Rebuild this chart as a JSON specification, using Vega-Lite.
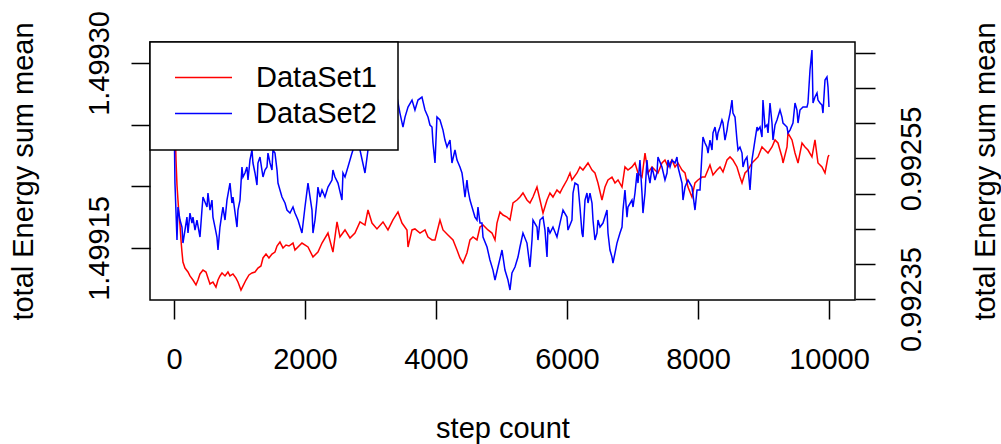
{
"$schema":"https://vega.github.io/schema/vega-lite/v6.json",
"width":705,"height":258,
"autosize":"none",
"padding":{"left":150,"top":42,"right":146,"bottom":144},
"background":"white",
"datasets":{
"red":[
{"step":1,"energy":1.4993089,"series":"DataSet1"},{"step":15,"energy":1.4992538,"series":"DataSet1"},{"step":31,"energy":1.4992213,"series":"DataSet1"},{"step":46,"energy":1.4992011,"series":"DataSet1"},{"step":61,"energy":1.4991889,"series":"DataSet1"},{"step":76,"energy":1.4991767,"series":"DataSet1"},{"step":92,"energy":1.4991686,"series":"DataSet1"},{"step":107,"energy":1.4991565,"series":"DataSet1"},{"step":122,"energy":1.4991467,"series":"DataSet1"},{"step":137,"energy":1.4991386,"series":"DataSet1"},{"step":168,"energy":1.4991337,"series":"DataSet1"},{"step":214,"energy":1.4991305,"series":"DataSet1"},{"step":244,"energy":1.4991273,"series":"DataSet1"},{"step":290,"energy":1.499124,"series":"DataSet1"},{"step":336,"energy":1.49912,"series":"DataSet1"},{"step":366,"energy":1.499124,"series":"DataSet1"},{"step":397,"energy":1.4991289,"series":"DataSet1"},{"step":443,"energy":1.4991321,"series":"DataSet1"},{"step":489,"energy":1.4991305,"series":"DataSet1"},{"step":519,"energy":1.4991256,"series":"DataSet1"},{"step":550,"energy":1.4991208,"series":"DataSet1"},{"step":595,"energy":1.4991224,"series":"DataSet1"},{"step":641,"energy":1.4991183,"series":"DataSet1"},{"step":672,"energy":1.499124,"series":"DataSet1"},{"step":702,"energy":1.4991273,"series":"DataSet1"},{"step":733,"energy":1.4991297,"series":"DataSet1"},{"step":779,"energy":1.4991273,"series":"DataSet1"},{"step":824,"energy":1.4991305,"series":"DataSet1"},{"step":855,"energy":1.4991273,"series":"DataSet1"},{"step":901,"energy":1.4991289,"series":"DataSet1"},{"step":947,"energy":1.4991256,"series":"DataSet1"},{"step":977,"energy":1.4991224,"series":"DataSet1"},{"step":1023,"energy":1.4991159,"series":"DataSet1"},{"step":1053,"energy":1.4991191,"series":"DataSet1"},{"step":1099,"energy":1.499124,"series":"DataSet1"},{"step":1145,"energy":1.4991281,"series":"DataSet1"},{"step":1191,"energy":1.4991297,"series":"DataSet1"},{"step":1237,"energy":1.4991305,"series":"DataSet1"},{"step":1282,"energy":1.4991337,"series":"DataSet1"},{"step":1328,"energy":1.4991354,"series":"DataSet1"},{"step":1359,"energy":1.4991419,"series":"DataSet1"},{"step":1405,"energy":1.4991451,"series":"DataSet1"},{"step":1450,"energy":1.4991419,"series":"DataSet1"},{"step":1496,"energy":1.4991451,"series":"DataSet1"},{"step":1542,"energy":1.4991467,"series":"DataSet1"},{"step":1573,"energy":1.4991516,"series":"DataSet1"},{"step":1618,"energy":1.4991548,"series":"DataSet1"},{"step":1664,"energy":1.49915,"series":"DataSet1"},{"step":1710,"energy":1.4991524,"series":"DataSet1"},{"step":1756,"energy":1.4991516,"series":"DataSet1"},{"step":1817,"energy":1.499154,"series":"DataSet1"},{"step":1847,"energy":1.4991483,"series":"DataSet1"},{"step":1954,"energy":1.499154,"series":"DataSet1"},{"step":2046,"energy":1.4991508,"series":"DataSet1"},{"step":2122,"energy":1.4991427,"series":"DataSet1"},{"step":2198,"energy":1.4991467,"series":"DataSet1"},{"step":2260,"energy":1.499154,"series":"DataSet1"},{"step":2351,"energy":1.4991621,"series":"DataSet1"},{"step":2427,"energy":1.4991467,"series":"DataSet1"},{"step":2489,"energy":1.4991711,"series":"DataSet1"},{"step":2534,"energy":1.4991589,"series":"DataSet1"},{"step":2611,"energy":1.4991646,"series":"DataSet1"},{"step":2687,"energy":1.4991581,"series":"DataSet1"},{"step":2763,"energy":1.4991621,"series":"DataSet1"},{"step":2840,"energy":1.4991711,"series":"DataSet1"},{"step":2916,"energy":1.4991686,"series":"DataSet1"},{"step":2962,"energy":1.4991808,"series":"DataSet1"},{"step":3023,"energy":1.4991702,"series":"DataSet1"},{"step":3099,"energy":1.4991654,"series":"DataSet1"},{"step":3191,"energy":1.4991711,"series":"DataSet1"},{"step":3267,"energy":1.4991646,"series":"DataSet1"},{"step":3343,"energy":1.4991727,"series":"DataSet1"},{"step":3420,"energy":1.4991792,"series":"DataSet1"},{"step":3481,"energy":1.4991702,"series":"DataSet1"},{"step":3557,"energy":1.4991646,"series":"DataSet1"},{"step":3573,"energy":1.4991508,"series":"DataSet1"},{"step":3634,"energy":1.4991646,"series":"DataSet1"},{"step":3679,"energy":1.4991654,"series":"DataSet1"},{"step":3756,"energy":1.4991621,"series":"DataSet1"},{"step":3832,"energy":1.4991646,"series":"DataSet1"},{"step":3878,"energy":1.4991589,"series":"DataSet1"},{"step":3939,"energy":1.4991565,"series":"DataSet1"},{"step":3985,"energy":1.4991565,"series":"DataSet1"},{"step":4061,"energy":1.4991727,"series":"DataSet1"},{"step":4107,"energy":1.4991646,"series":"DataSet1"},{"step":4183,"energy":1.4991605,"series":"DataSet1"},{"step":4260,"energy":1.4991565,"series":"DataSet1"},{"step":4321,"energy":1.4991483,"series":"DataSet1"},{"step":4366,"energy":1.4991419,"series":"DataSet1"},{"step":4412,"energy":1.4991378,"series":"DataSet1"},{"step":4473,"energy":1.4991459,"series":"DataSet1"},{"step":4519,"energy":1.4991565,"series":"DataSet1"},{"step":4565,"energy":1.4991589,"series":"DataSet1"},{"step":4626,"energy":1.4991565,"series":"DataSet1"},{"step":4672,"energy":1.499167,"series":"DataSet1"},{"step":4718,"energy":1.4991686,"series":"DataSet1"},{"step":4794,"energy":1.4991646,"series":"DataSet1"},{"step":4855,"energy":1.4991621,"series":"DataSet1"},{"step":4901,"energy":1.4991565,"series":"DataSet1"},{"step":4931,"energy":1.4991702,"series":"DataSet1"},{"step":4977,"energy":1.4991792,"series":"DataSet1"},{"step":5023,"energy":1.4991767,"series":"DataSet1"},{"step":5084,"energy":1.4991751,"series":"DataSet1"},{"step":5130,"energy":1.4991727,"series":"DataSet1"},{"step":5176,"energy":1.4991865,"series":"DataSet1"},{"step":5237,"energy":1.4991889,"series":"DataSet1"},{"step":5282,"energy":1.4991913,"series":"DataSet1"},{"step":5328,"energy":1.4991946,"series":"DataSet1"},{"step":5389,"energy":1.4991889,"series":"DataSet1"},{"step":5435,"energy":1.4991865,"series":"DataSet1"},{"step":5481,"energy":1.4991913,"series":"DataSet1"},{"step":5542,"energy":1.4991994,"series":"DataSet1"},{"step":5588,"energy":1.4991889,"series":"DataSet1"},{"step":5634,"energy":1.4991783,"series":"DataSet1"},{"step":5695,"energy":1.4991889,"series":"DataSet1"},{"step":5740,"energy":1.4991946,"series":"DataSet1"},{"step":5786,"energy":1.4991913,"series":"DataSet1"},{"step":5847,"energy":1.499197,"series":"DataSet1"},{"step":5893,"energy":1.4991946,"series":"DataSet1"},{"step":5939,"energy":1.4991994,"series":"DataSet1"},{"step":6000,"energy":1.4992051,"series":"DataSet1"},{"step":6046,"energy":1.4992108,"series":"DataSet1"},{"step":6076,"energy":1.4992051,"series":"DataSet1"},{"step":6153,"energy":1.4992108,"series":"DataSet1"},{"step":6198,"energy":1.4992157,"series":"DataSet1"},{"step":6244,"energy":1.4992132,"series":"DataSet1"},{"step":6321,"energy":1.4992189,"series":"DataSet1"},{"step":6382,"energy":1.4992132,"series":"DataSet1"},{"step":6427,"energy":1.4992108,"series":"DataSet1"},{"step":6473,"energy":1.4992027,"series":"DataSet1"},{"step":6534,"energy":1.4991889,"series":"DataSet1"},{"step":6580,"energy":1.4991994,"series":"DataSet1"},{"step":6626,"energy":1.4992051,"series":"DataSet1"},{"step":6687,"energy":1.4992075,"series":"DataSet1"},{"step":6733,"energy":1.4992027,"series":"DataSet1"},{"step":6779,"energy":1.4992051,"series":"DataSet1"},{"step":6840,"energy":1.4991994,"series":"DataSet1"},{"step":6885,"energy":1.4992157,"series":"DataSet1"},{"step":6931,"energy":1.4992132,"series":"DataSet1"},{"step":6992,"energy":1.4992157,"series":"DataSet1"},{"step":7038,"energy":1.4992189,"series":"DataSet1"},{"step":7084,"energy":1.4992108,"series":"DataSet1"},{"step":7145,"energy":1.4992075,"series":"DataSet1"},{"step":7191,"energy":1.499227,"series":"DataSet1"},{"step":7237,"energy":1.4992108,"series":"DataSet1"},{"step":7298,"energy":1.4992157,"series":"DataSet1"},{"step":7343,"energy":1.4992132,"series":"DataSet1"},{"step":7389,"energy":1.4992108,"series":"DataSet1"},{"step":7450,"energy":1.4992189,"series":"DataSet1"},{"step":7496,"energy":1.4992213,"series":"DataSet1"},{"step":7542,"energy":1.4992157,"series":"DataSet1"},{"step":7603,"energy":1.4992213,"series":"DataSet1"},{"step":7649,"energy":1.4992157,"series":"DataSet1"},{"step":7695,"energy":1.4992189,"series":"DataSet1"},{"step":7756,"energy":1.4992132,"series":"DataSet1"},{"step":7802,"energy":1.4992108,"series":"DataSet1"},{"step":7847,"energy":1.4991994,"series":"DataSet1"},{"step":7908,"energy":1.4991913,"series":"DataSet1"},{"step":7954,"energy":1.4992027,"series":"DataSet1"},{"step":8000,"energy":1.4992051,"series":"DataSet1"},{"step":8061,"energy":1.4992075,"series":"DataSet1"},{"step":8107,"energy":1.4992075,"series":"DataSet1"},{"step":8183,"energy":1.4992173,"series":"DataSet1"},{"step":8229,"energy":1.4992092,"series":"DataSet1"},{"step":8290,"energy":1.4992132,"series":"DataSet1"},{"step":8336,"energy":1.4992157,"series":"DataSet1"},{"step":8382,"energy":1.4992116,"series":"DataSet1"},{"step":8443,"energy":1.4992213,"series":"DataSet1"},{"step":8489,"energy":1.4992238,"series":"DataSet1"},{"step":8534,"energy":1.4992213,"series":"DataSet1"},{"step":8595,"energy":1.4992157,"series":"DataSet1"},{"step":8641,"energy":1.4992075,"series":"DataSet1"},{"step":8672,"energy":1.4992027,"series":"DataSet1"},{"step":8718,"energy":1.4992108,"series":"DataSet1"},{"step":8763,"energy":1.4992132,"series":"DataSet1"},{"step":8824,"energy":1.4992189,"series":"DataSet1"},{"step":8870,"energy":1.4992213,"series":"DataSet1"},{"step":8916,"energy":1.4992238,"series":"DataSet1"},{"step":8977,"energy":1.4992319,"series":"DataSet1"},{"step":9023,"energy":1.4992294,"series":"DataSet1"},{"step":9069,"energy":1.499227,"series":"DataSet1"},{"step":9130,"energy":1.4992319,"series":"DataSet1"},{"step":9176,"energy":1.4992376,"series":"DataSet1"},{"step":9221,"energy":1.4992351,"series":"DataSet1"},{"step":9282,"energy":1.4992238,"series":"DataSet1"},{"step":9298,"energy":1.4992189,"series":"DataSet1"},{"step":9359,"energy":1.4992319,"series":"DataSet1"},{"step":9374,"energy":1.4992432,"series":"DataSet1"},{"step":9435,"energy":1.4992376,"series":"DataSet1"},{"step":9481,"energy":1.499227,"series":"DataSet1"},{"step":9527,"energy":1.4992189,"series":"DataSet1"},{"step":9588,"energy":1.4992351,"series":"DataSet1"},{"step":9634,"energy":1.4992319,"series":"DataSet1"},{"step":9679,"energy":1.4992294,"series":"DataSet1"},{"step":9740,"energy":1.4992238,"series":"DataSet1"},{"step":9786,"energy":1.4992376,"series":"DataSet1"},{"step":9832,"energy":1.4992189,"series":"DataSet1"},{"step":9893,"energy":1.4992157,"series":"DataSet1"},{"step":9939,"energy":1.4992108,"series":"DataSet1"},{"step":9985,"energy":1.4992238,"series":"DataSet1"},{"step":10000,"energy":1.4992254,"series":"DataSet1"}
],
"blue":[
{"step":1,"energy":0.9926189,"series":"DataSet2"},{"step":15,"energy":0.992515,"series":"DataSet2"},{"step":46,"energy":0.9924339,"series":"DataSet2"},{"step":61,"energy":0.9924809,"series":"DataSet2"},{"step":92,"energy":0.9924624,"series":"DataSet2"},{"step":122,"energy":0.9924524,"series":"DataSet2"},{"step":137,"energy":0.9924296,"series":"DataSet2"},{"step":168,"energy":0.9924481,"series":"DataSet2"},{"step":198,"energy":0.9924666,"series":"DataSet2"},{"step":214,"energy":0.9924439,"series":"DataSet2"},{"step":244,"energy":0.9924723,"series":"DataSet2"},{"step":275,"energy":0.9924581,"series":"DataSet2"},{"step":290,"energy":0.9924666,"series":"DataSet2"},{"step":321,"energy":0.9924481,"series":"DataSet2"},{"step":351,"energy":0.9924624,"series":"DataSet2"},{"step":397,"energy":0.9924382,"series":"DataSet2"},{"step":427,"energy":0.9924766,"series":"DataSet2"},{"step":443,"energy":0.9924951,"series":"DataSet2"},{"step":504,"energy":0.9924809,"series":"DataSet2"},{"step":519,"energy":0.9925008,"series":"DataSet2"},{"step":550,"energy":0.9924766,"series":"DataSet2"},{"step":580,"energy":0.9924908,"series":"DataSet2"},{"step":595,"energy":0.9924666,"series":"DataSet2"},{"step":626,"energy":0.9924524,"series":"DataSet2"},{"step":656,"energy":0.9924382,"series":"DataSet2"},{"step":672,"energy":0.9924197,"series":"DataSet2"},{"step":702,"energy":0.9924524,"series":"DataSet2"},{"step":733,"energy":0.9924723,"series":"DataSet2"},{"step":748,"energy":0.9924809,"series":"DataSet2"},{"step":779,"energy":0.9924624,"series":"DataSet2"},{"step":809,"energy":0.9924908,"series":"DataSet2"},{"step":855,"energy":0.992515,"series":"DataSet2"},{"step":885,"energy":0.9924866,"series":"DataSet2"},{"step":901,"energy":0.9924951,"series":"DataSet2"},{"step":962,"energy":0.9924524,"series":"DataSet2"},{"step":977,"energy":0.9924766,"series":"DataSet2"},{"step":1008,"energy":0.9924908,"series":"DataSet2"},{"step":1038,"energy":0.9925378,"series":"DataSet2"},{"step":1053,"energy":0.9925236,"series":"DataSet2"},{"step":1084,"energy":0.9925293,"series":"DataSet2"},{"step":1114,"energy":0.9925378,"series":"DataSet2"},{"step":1130,"energy":0.9925193,"series":"DataSet2"},{"step":1160,"energy":0.9925477,"series":"DataSet2"},{"step":1191,"energy":0.992562,"series":"DataSet2"},{"step":1206,"energy":0.9925435,"series":"DataSet2"},{"step":1237,"energy":0.9925293,"series":"DataSet2"},{"step":1267,"energy":0.9925122,"series":"DataSet2"},{"step":1282,"energy":0.9925435,"series":"DataSet2"},{"step":1313,"energy":0.992552,"series":"DataSet2"},{"step":1343,"energy":0.9925335,"series":"DataSet2"},{"step":1359,"energy":0.9925236,"series":"DataSet2"},{"step":1389,"energy":0.9925335,"series":"DataSet2"},{"step":1420,"energy":0.9925378,"series":"DataSet2"},{"step":1435,"energy":0.9925577,"series":"DataSet2"},{"step":1466,"energy":0.9925435,"series":"DataSet2"},{"step":1496,"energy":0.9925335,"series":"DataSet2"},{"step":1511,"energy":0.992562,"series":"DataSet2"},{"step":1542,"energy":0.9925577,"series":"DataSet2"},{"step":1573,"energy":0.9925335,"series":"DataSet2"},{"step":1588,"energy":0.992515,"series":"DataSet2"},{"step":1618,"energy":0.9925051,"series":"DataSet2"},{"step":1649,"energy":0.9924951,"series":"DataSet2"},{"step":1695,"energy":0.9924866,"series":"DataSet2"},{"step":1725,"energy":0.9924766,"series":"DataSet2"},{"step":1771,"energy":0.9924723,"series":"DataSet2"},{"step":1817,"energy":0.9924809,"series":"DataSet2"},{"step":1847,"energy":0.9924723,"series":"DataSet2"},{"step":1893,"energy":0.9924624,"series":"DataSet2"},{"step":1954,"energy":0.9924439,"series":"DataSet2"},{"step":2000,"energy":0.9924809,"series":"DataSet2"},{"step":2046,"energy":0.992515,"series":"DataSet2"},{"step":2107,"energy":0.9924766,"series":"DataSet2"},{"step":2122,"energy":0.9924439,"series":"DataSet2"},{"step":2153,"energy":0.9924624,"series":"DataSet2"},{"step":2183,"energy":0.9924908,"series":"DataSet2"},{"step":2198,"energy":0.9925093,"series":"DataSet2"},{"step":2229,"energy":0.9924951,"series":"DataSet2"},{"step":2260,"energy":0.9925051,"series":"DataSet2"},{"step":2305,"energy":0.9924951,"series":"DataSet2"},{"step":2351,"energy":0.9925093,"series":"DataSet2"},{"step":2412,"energy":0.9925193,"series":"DataSet2"},{"step":2427,"energy":0.9925335,"series":"DataSet2"},{"step":2458,"energy":0.9925236,"series":"DataSet2"},{"step":2504,"energy":0.992515,"series":"DataSet2"},{"step":2565,"energy":0.9924908,"series":"DataSet2"},{"step":2580,"energy":0.9925293,"series":"DataSet2"},{"step":2611,"energy":0.9925236,"series":"DataSet2"},{"step":2656,"energy":0.9925378,"series":"DataSet2"},{"step":2718,"energy":0.9925577,"series":"DataSet2"},{"step":2733,"energy":0.992562,"series":"DataSet2"},{"step":2763,"energy":0.9925762,"series":"DataSet2"},{"step":2809,"energy":0.9925691,"series":"DataSet2"},{"step":2840,"energy":0.992562,"series":"DataSet2"},{"step":2916,"energy":0.9925293,"series":"DataSet2"},{"step":2962,"energy":0.992562,"series":"DataSet2"},{"step":3023,"energy":0.9925762,"series":"DataSet2"},{"step":3115,"energy":0.9925976,"series":"DataSet2"},{"step":3191,"energy":0.9926118,"series":"DataSet2"},{"step":3267,"energy":0.992626,"series":"DataSet2"},{"step":3343,"energy":0.9926331,"series":"DataSet2"},{"step":3405,"energy":0.9926374,"series":"DataSet2"},{"step":3450,"energy":0.9926146,"series":"DataSet2"},{"step":3496,"energy":0.9925947,"series":"DataSet2"},{"step":3527,"energy":0.9926089,"series":"DataSet2"},{"step":3573,"energy":0.9926232,"series":"DataSet2"},{"step":3634,"energy":0.9926331,"series":"DataSet2"},{"step":3679,"energy":0.9926189,"series":"DataSet2"},{"step":3725,"energy":0.9926331,"series":"DataSet2"},{"step":3786,"energy":0.9926374,"series":"DataSet2"},{"step":3832,"energy":0.9926189,"series":"DataSet2"},{"step":3878,"energy":0.9926089,"series":"DataSet2"},{"step":3908,"energy":0.9925976,"series":"DataSet2"},{"step":3939,"energy":0.9925947,"series":"DataSet2"},{"step":3954,"energy":0.9925719,"series":"DataSet2"},{"step":3985,"energy":0.9925435,"series":"DataSet2"},{"step":4015,"energy":0.9926089,"series":"DataSet2"},{"step":4061,"energy":0.9926047,"series":"DataSet2"},{"step":4107,"energy":0.9925904,"series":"DataSet2"},{"step":4137,"energy":0.9925762,"series":"DataSet2"},{"step":4168,"energy":0.9925662,"series":"DataSet2"},{"step":4214,"energy":0.9925762,"series":"DataSet2"},{"step":4244,"energy":0.9925435,"series":"DataSet2"},{"step":4290,"energy":0.992562,"series":"DataSet2"},{"step":4321,"energy":0.9925477,"series":"DataSet2"},{"step":4366,"energy":0.9925378,"series":"DataSet2"},{"step":4397,"energy":0.9925293,"series":"DataSet2"},{"step":4412,"energy":0.9925193,"series":"DataSet2"},{"step":4443,"energy":0.9924951,"series":"DataSet2"},{"step":4473,"energy":0.9925193,"series":"DataSet2"},{"step":4489,"energy":0.9925051,"series":"DataSet2"},{"step":4519,"energy":0.9924908,"series":"DataSet2"},{"step":4550,"energy":0.9924809,"series":"DataSet2"},{"step":4595,"energy":0.9924666,"series":"DataSet2"},{"step":4626,"energy":0.9924624,"series":"DataSet2"},{"step":4641,"energy":0.9924809,"series":"DataSet2"},{"step":4672,"energy":0.9924581,"series":"DataSet2"},{"step":4702,"energy":0.9924581,"series":"DataSet2"},{"step":4718,"energy":0.9924382,"series":"DataSet2"},{"step":4779,"energy":0.992424,"series":"DataSet2"},{"step":4824,"energy":0.9924055,"series":"DataSet2"},{"step":4870,"energy":0.9923912,"series":"DataSet2"},{"step":4901,"energy":0.992377,"series":"DataSet2"},{"step":4947,"energy":0.9923955,"series":"DataSet2"},{"step":5008,"energy":0.9924197,"series":"DataSet2"},{"step":5053,"energy":0.9923912,"series":"DataSet2"},{"step":5099,"energy":0.992377,"series":"DataSet2"},{"step":5130,"energy":0.9923628,"series":"DataSet2"},{"step":5160,"energy":0.992387,"series":"DataSet2"},{"step":5206,"energy":0.9923955,"series":"DataSet2"},{"step":5252,"energy":0.9924097,"series":"DataSet2"},{"step":5282,"energy":0.992424,"series":"DataSet2"},{"step":5328,"energy":0.9924439,"series":"DataSet2"},{"step":5389,"energy":0.9924296,"series":"DataSet2"},{"step":5435,"energy":0.9923955,"series":"DataSet2"},{"step":5466,"energy":0.9924339,"series":"DataSet2"},{"step":5481,"energy":0.9924624,"series":"DataSet2"},{"step":5542,"energy":0.9924524,"series":"DataSet2"},{"step":5557,"energy":0.9924339,"series":"DataSet2"},{"step":5588,"energy":0.9924624,"series":"DataSet2"},{"step":5634,"energy":0.9924666,"series":"DataSet2"},{"step":5664,"energy":0.9924481,"series":"DataSet2"},{"step":5695,"energy":0.9924097,"series":"DataSet2"},{"step":5710,"energy":0.9924524,"series":"DataSet2"},{"step":5740,"energy":0.9924439,"series":"DataSet2"},{"step":5786,"energy":0.9924524,"series":"DataSet2"},{"step":5847,"energy":0.9924382,"series":"DataSet2"},{"step":5893,"energy":0.9924581,"series":"DataSet2"},{"step":5939,"energy":0.9924766,"series":"DataSet2"},{"step":6000,"energy":0.9924666,"series":"DataSet2"},{"step":6015,"energy":0.9924481,"series":"DataSet2"},{"step":6076,"energy":0.9924624,"series":"DataSet2"},{"step":6092,"energy":0.9925008,"series":"DataSet2"},{"step":6122,"energy":0.992515,"series":"DataSet2"},{"step":6168,"energy":0.9925122,"series":"DataSet2"},{"step":6198,"energy":0.9924809,"series":"DataSet2"},{"step":6229,"energy":0.9924439,"series":"DataSet2"},{"step":6244,"energy":0.9924382,"series":"DataSet2"},{"step":6275,"energy":0.9924908,"series":"DataSet2"},{"step":6305,"energy":0.9925008,"series":"DataSet2"},{"step":6321,"energy":0.9924866,"series":"DataSet2"},{"step":6351,"energy":0.9925008,"series":"DataSet2"},{"step":6382,"energy":0.9924866,"series":"DataSet2"},{"step":6397,"energy":0.9924624,"series":"DataSet2"},{"step":6427,"energy":0.9924339,"series":"DataSet2"},{"step":6458,"energy":0.9924439,"series":"DataSet2"},{"step":6473,"energy":0.9924624,"series":"DataSet2"},{"step":6504,"energy":0.9924524,"series":"DataSet2"},{"step":6550,"energy":0.9924581,"series":"DataSet2"},{"step":6611,"energy":0.9924766,"series":"DataSet2"},{"step":6626,"energy":0.9924439,"series":"DataSet2"},{"step":6656,"energy":0.9924197,"series":"DataSet2"},{"step":6687,"energy":0.9924097,"series":"DataSet2"},{"step":6702,"energy":0.9924012,"series":"DataSet2"},{"step":6733,"energy":0.9924154,"series":"DataSet2"},{"step":6763,"energy":0.9924296,"series":"DataSet2"},{"step":6809,"energy":0.9924439,"series":"DataSet2"},{"step":6840,"energy":0.9924524,"series":"DataSet2"},{"step":6855,"energy":0.9924766,"series":"DataSet2"},{"step":6885,"energy":0.9925051,"series":"DataSet2"},{"step":6916,"energy":0.9924666,"series":"DataSet2"},{"step":6931,"energy":0.9924809,"series":"DataSet2"},{"step":6992,"energy":0.9924908,"series":"DataSet2"},{"step":7008,"energy":0.9924809,"series":"DataSet2"},{"step":7038,"energy":0.9925008,"series":"DataSet2"},{"step":7069,"energy":0.9925293,"series":"DataSet2"},{"step":7084,"energy":0.992515,"series":"DataSet2"},{"step":7114,"energy":0.9925477,"series":"DataSet2"},{"step":7145,"energy":0.9925008,"series":"DataSet2"},{"step":7160,"energy":0.9924723,"series":"DataSet2"},{"step":7191,"energy":0.9925008,"series":"DataSet2"},{"step":7221,"energy":0.9925477,"series":"DataSet2"},{"step":7237,"energy":0.9925293,"series":"DataSet2"},{"step":7267,"energy":0.992515,"series":"DataSet2"},{"step":7298,"energy":0.9925378,"series":"DataSet2"},{"step":7343,"energy":0.9925193,"series":"DataSet2"},{"step":7374,"energy":0.9925293,"series":"DataSet2"},{"step":7389,"energy":0.992552,"series":"DataSet2"},{"step":7450,"energy":0.9925378,"series":"DataSet2"},{"step":7496,"energy":0.9925193,"series":"DataSet2"},{"step":7527,"energy":0.9925293,"series":"DataSet2"},{"step":7542,"energy":0.9925477,"series":"DataSet2"},{"step":7573,"energy":0.9925378,"series":"DataSet2"},{"step":7603,"energy":0.9925477,"series":"DataSet2"},{"step":7649,"energy":0.9925435,"series":"DataSet2"},{"step":7679,"energy":0.992552,"series":"DataSet2"},{"step":7695,"energy":0.9925378,"series":"DataSet2"},{"step":7756,"energy":0.992515,"series":"DataSet2"},{"step":7771,"energy":0.9924908,"series":"DataSet2"},{"step":7802,"energy":0.9925093,"series":"DataSet2"},{"step":7847,"energy":0.9925193,"series":"DataSet2"},{"step":7908,"energy":0.9925093,"series":"DataSet2"},{"step":7954,"energy":0.9924766,"series":"DataSet2"},{"step":7985,"energy":0.9925051,"series":"DataSet2"},{"step":8031,"energy":0.9925051,"series":"DataSet2"},{"step":8061,"energy":0.9925577,"series":"DataSet2"},{"step":8076,"energy":0.9925805,"series":"DataSet2"},{"step":8107,"energy":0.9925719,"series":"DataSet2"},{"step":8137,"energy":0.9925662,"series":"DataSet2"},{"step":8153,"energy":0.9925577,"series":"DataSet2"},{"step":8183,"energy":0.9925762,"series":"DataSet2"},{"step":8214,"energy":0.992562,"series":"DataSet2"},{"step":8229,"energy":0.9925862,"series":"DataSet2"},{"step":8260,"energy":0.9925947,"series":"DataSet2"},{"step":8290,"energy":0.9925762,"series":"DataSet2"},{"step":8305,"energy":0.9925862,"series":"DataSet2"},{"step":8336,"energy":0.9925947,"series":"DataSet2"},{"step":8366,"energy":0.9926047,"series":"DataSet2"},{"step":8382,"energy":0.9926004,"series":"DataSet2"},{"step":8412,"energy":0.9925762,"series":"DataSet2"},{"step":8443,"energy":0.9925904,"series":"DataSet2"},{"step":8458,"energy":0.9926004,"series":"DataSet2"},{"step":8489,"energy":0.9926146,"series":"DataSet2"},{"step":8519,"energy":0.9926331,"series":"DataSet2"},{"step":8534,"energy":0.9926146,"series":"DataSet2"},{"step":8565,"energy":0.9926089,"series":"DataSet2"},{"step":8595,"energy":0.9925762,"series":"DataSet2"},{"step":8611,"energy":0.992562,"series":"DataSet2"},{"step":8641,"energy":0.9925662,"series":"DataSet2"},{"step":8672,"energy":0.9925577,"series":"DataSet2"},{"step":8687,"energy":0.9925378,"series":"DataSet2"},{"step":8718,"energy":0.9925477,"series":"DataSet2"},{"step":8748,"energy":0.992552,"series":"DataSet2"},{"step":8763,"energy":0.9925378,"series":"DataSet2"},{"step":8794,"energy":0.9925051,"series":"DataSet2"},{"step":8824,"energy":0.9925477,"series":"DataSet2"},{"step":8840,"energy":0.9925577,"series":"DataSet2"},{"step":8870,"energy":0.9925762,"series":"DataSet2"},{"step":8901,"energy":0.9925947,"series":"DataSet2"},{"step":8916,"energy":0.9925904,"series":"DataSet2"},{"step":8947,"energy":0.9925947,"series":"DataSet2"},{"step":8977,"energy":0.9925805,"series":"DataSet2"},{"step":8992,"energy":0.9926331,"series":"DataSet2"},{"step":9023,"energy":0.9925947,"series":"DataSet2"},{"step":9053,"energy":0.9925976,"series":"DataSet2"},{"step":9069,"energy":0.9925862,"series":"DataSet2"},{"step":9099,"energy":0.9926289,"series":"DataSet2"},{"step":9130,"energy":0.9926004,"series":"DataSet2"},{"step":9145,"energy":0.9925762,"series":"DataSet2"},{"step":9176,"energy":0.9925976,"series":"DataSet2"},{"step":9206,"energy":0.9926047,"series":"DataSet2"},{"step":9252,"energy":0.9926189,"series":"DataSet2"},{"step":9282,"energy":0.9926089,"series":"DataSet2"},{"step":9298,"energy":0.9926004,"series":"DataSet2"},{"step":9359,"energy":0.9925947,"series":"DataSet2"},{"step":9374,"energy":0.9925862,"series":"DataSet2"},{"step":9405,"energy":0.9925904,"series":"DataSet2"},{"step":9450,"energy":0.9926004,"series":"DataSet2"},{"step":9481,"energy":0.9926289,"series":"DataSet2"},{"step":9511,"energy":0.9926189,"series":"DataSet2"},{"step":9527,"energy":0.9926004,"series":"DataSet2"},{"step":9557,"energy":0.9926189,"series":"DataSet2"},{"step":9603,"energy":0.9926232,"series":"DataSet2"},{"step":9664,"energy":0.9926232,"series":"DataSet2"},{"step":9679,"energy":0.9926289,"series":"DataSet2"},{"step":9710,"energy":0.9926758,"series":"DataSet2"},{"step":9740,"energy":0.9927043,"series":"DataSet2"},{"step":9756,"energy":0.9926289,"series":"DataSet2"},{"step":9786,"energy":0.9926374,"series":"DataSet2"},{"step":9817,"energy":0.9926431,"series":"DataSet2"},{"step":9832,"energy":0.9926331,"series":"DataSet2"},{"step":9863,"energy":0.9926289,"series":"DataSet2"},{"step":9893,"energy":0.992626,"series":"DataSet2"},{"step":9908,"energy":0.9926146,"series":"DataSet2"},{"step":9939,"energy":0.9926616,"series":"DataSet2"},{"step":9969,"energy":0.9926659,"series":"DataSet2"},{"step":9985,"energy":0.9926516,"series":"DataSet2"},{"step":10000,"energy":0.9926232,"series":"DataSet2"}
]
},
"layer":[
{"data":{"name":"red"},
 "mark":{"type":"line","strokeWidth":1.5},
 "encoding":{
  "x":{"field":"step","type":"quantitative","scale":{"domain":[-366,10397],"nice":false,"zero":false},
       "axis":{"values":[0,2000,4000,6000,8000,10000],"format":"d","tickSize":19,"labelPadding":49,"labelBaseline":"alphabetic","labelFlush":false,"labelOverlap":false,"title":"step count","titleY":137,"titleBaseline":"alphabetic"}},
  "y":{"field":"energy","type":"quantitative","scale":{"domain":[1.4991078,1.499317],"nice":false,"zero":false},
       "axis":{"orient":"left","values":[1.49915,1.4992,1.49925,1.4993],"tickSize":19,"labelAngle":-90,"labelAlign":"center","labelBaseline":"alphabetic","labelPadding":23,"labelOverlap":false,
               "labelExpr":"(abs(datum.value-1.4993)<1e-9 || abs(datum.value-1.49915)<1e-9) ? format(datum.value,'.5f') : ''",
               "title":"total Energy sum mean","titleAngle":-90,"titleX":-118,"titleY":129,"titleAlign":"center","titleBaseline":"alphabetic"}},
  "color":{"field":"series","type":"nominal","scale":{"domain":["DataSet1","DataSet2"],"range":["#FF0000","#0000FF"]},
       "legend":{"title":null,"orient":"none","legendX":0,"legendY":0,"padding":21,"clipHeight":29,"strokeColor":"black","fillColor":"white","symbolType":"stroke","symbolSize":3249,"symbolStrokeWidth":1.5,"symbolOffset":3,"labelFont":"Liberation Sans","labelFontSize":29,"labelColor":"black","labelOffset":23,"rowPadding":6,
                 "encode":{"legend":{"update":{"strokeWidth":{"value":1.5}}}}}}
 }},
{"data":{"name":"blue"},
 "mark":{"type":"line","strokeWidth":1.5},
 "encoding":{
  "x":{"field":"step","type":"quantitative"},
  "y":{"field":"energy","type":"quantitative","scale":{"domain":[0.9923486,0.9927157],"nice":false,"zero":false},
       "axis":{"orient":"right","values":[0.99235,0.9924,0.99245,0.9925,0.99255,0.9926,0.99265,0.9927],"tickSize":20,"labelAngle":-90,"labelAlign":"center","labelBaseline":"alphabetic","labelPadding":45,"labelOverlap":false,
               "labelExpr":"(abs(datum.value-0.99235)<1e-9 || abs(datum.value-0.99255)<1e-9) ? format(datum.value,'.5f') : ''",
               "title":"total Energy sum mean","titleAngle":-90,"titleX":139,"titleY":129,"titleAlign":"center","titleBaseline":"alphabetic"}},
  "color":{"field":"series","type":"nominal",
       "legend":{"title":null,"orient":"none","legendX":0,"legendY":0,"padding":21,"clipHeight":29,"strokeColor":"black","fillColor":"white","symbolType":"stroke","symbolSize":3249,"symbolStrokeWidth":1.5,"symbolOffset":3,"labelFont":"Liberation Sans","labelFontSize":29,"labelColor":"black","labelOffset":23,"rowPadding":6,
                 "encode":{"legend":{"update":{"strokeWidth":{"value":1.5}}}}}}
 }}
],
"resolve":{"scale":{"y":"independent"}},
"config":{
 "view":{"stroke":"black","strokeWidth":1.5},
 "axis":{"domain":false,"grid":false,"tickColor":"black","tickWidth":1.5,"labelColor":"black","titleColor":"black","labelFont":"Liberation Sans","titleFont":"Liberation Sans","labelFontSize":29,"titleFontSize":29,"titleFontWeight":"normal"}
}
}
